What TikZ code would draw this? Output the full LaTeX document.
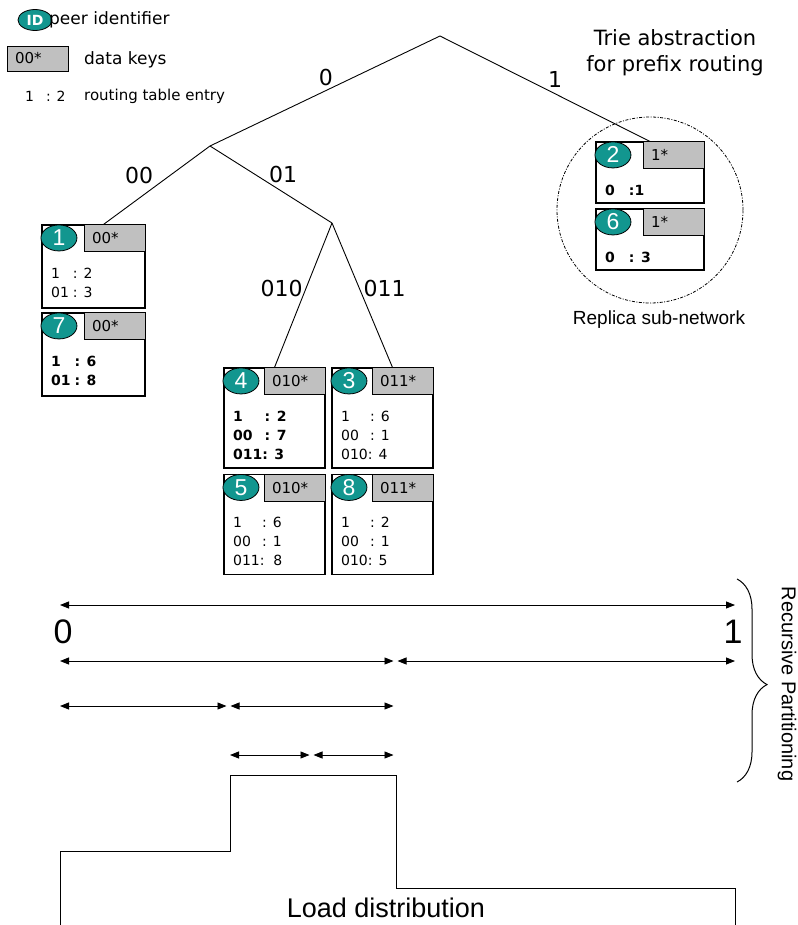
\documentclass[tikz,border=0pt]{standalone}
\usepackage{fontspec}
\setmainfont{Liberation Sans}
\newfontfamily\keyfont{DejaVu Sans}
\usetikzlibrary{positioning,shapes.geometric,arrows.meta,decorations.pathreplacing}
\definecolor{PeerTeal}{HTML}{12968F}
\definecolor{KeyGray}{HTML}{C0C0C0}

% one peer: frame, key range, id and routing table
\newcommand{\peerbox}[6][]{%
  \node[peer,#1] (#2) at (#3) {};
  \node[keybox] (#2k) at (#2.north east) {#5};
  \node[idmark] (#2i) at ([shift={(17.5pt,-13.5pt)}]#2.north west) {#4};
  \node[entries] (#2t) at ([shift={(9.5pt,-54pt)}]#2.north west) {#6};
}

\begin{document}
\begin{tikzpicture}[
    x=1pt, y=-1pt,
    peer/.style={draw,line width=1.1pt,minimum width=101pt,minimum height=100pt,inner sep=0pt},
    keybox/.style={draw,line width=0.9pt,fill=KeyGray,anchor=north east,minimum height=27pt,
      text width=45pt,inner xsep=8pt,inner ysep=0pt,align=left,font=\keyfont\fontsize{15}{16}\selectfont},
    idmark/.style={ellipse,draw,line width=0.8pt,fill=PeerTeal,minimum width=36pt,minimum height=26pt,
      inner sep=0pt,text=white,font=\fontsize{23}{23}\selectfont},
    entries/.style={anchor=base west,inner sep=0pt,font=\keyfont\fontsize{14}{19}\selectfont},
    trie/.style={line width=0.9pt},
    branch/.style={font=\keyfont\fontsize{22}{22}\selectfont,inner sep=0pt},
    legend/.style={anchor=west,inner sep=0pt,font=\keyfont\fontsize{17}{17}\selectfont},
    span/.style={<->,>={Triangle[length=9pt,width=7pt]},line width=0.9pt}
  ]
  \useasboundingbox (0,0) rectangle (797,925);

  % legend
  \node[idmark,minimum width=34pt,minimum height=21pt,font=\keyfont\bfseries\fontsize{14}{14}\selectfont] (legid) at (35,20) {ID};
  \node[legend] (legidtxt) at (49,20) {peer identifier};
  \node[keybox,anchor=center,minimum height=25pt,text width=45pt,inner xsep=8pt] (legkey) at (37.5,58.5) {00*};
  \node[legend] (legkeytxt) at (84,60) {data keys};
  \node[legend,font=\keyfont\fontsize{14}{14}\selectfont] (legrt) at (25,96) {1\hspace{12pt}: 2};
  \node[legend,font=\keyfont\fontsize{15}{15}\selectfont] (legrttxt) at (84,96) {routing table entry};

  \node[align=center,font=\keyfont\fontsize{21}{26}\selectfont] (title) at (675,53) {Trie abstraction\\for prefix routing};

  % peers
  \peerbox[minimum width=103pt,minimum height=83pt]{p1}{93.5,266.5}{1}{00*}{%
    \begin{tabular}[t]{@{}l@{\hspace{4pt}}l@{}}1 & : 2\\01 & : 3\end{tabular}}
  \peerbox[minimum width=103pt,minimum height=83pt]{p7}{93.5,354.5}{7}{00*}{\bfseries%
    \begin{tabular}[t]{@{}l@{\hspace{4pt}}l@{}}1 & : 6\\01 & : 8\end{tabular}}
  \peerbox{p4}{274.5,418}{4}{010*}{\bfseries%
    \begin{tabular}[t]{@{}l@{}l@{}}1 & \,: 2\\00 & \,: 7\\011 & : 3\end{tabular}}
  \peerbox{p3}{382.5,418}{3}{011*}{%
    \begin{tabular}[t]{@{}l@{}l@{}}1 & \,: 6\\00 & \,: 1\\010 & : 4\end{tabular}}
  \peerbox{p5}{274.5,524.5}{5}{010*}{%
    \begin{tabular}[t]{@{}l@{}l@{}}1 & \,: 6\\00 & \,: 1\\011 & :\ \ 8\end{tabular}}
  \peerbox{p8}{382.5,524.5}{8}{011*}{%
    \begin{tabular}[t]{@{}l@{}l@{}}1 & \,: 2\\00 & \,: 1\\010 & : 5\end{tabular}}
  \peerbox[minimum width=108pt,minimum height=61pt]{p2}{650,172.5}{2}{1*}{\bfseries%
    \begin{tabular}[t]{@{}l@{\hspace{14pt}}l@{}}0 & :1\end{tabular}}
  \peerbox[minimum width=108pt,minimum height=61pt]{p6}{650,239.5}{6}{1*}{\bfseries%
    \begin{tabular}[t]{@{}l@{\hspace{14pt}}l@{}}0 & : 3\end{tabular}}

  \node[circle,draw,line width=0.8pt,dash pattern=on 3pt off 1.5pt on 1pt off 1.5pt,minimum size=186pt] (replica) at (650,210) {};
  \node[font=\fontsize{19}{19}\selectfont] (replicatxt) at (659,320) {Replica sub-network};

  % trie
  \coordinate (root) at (440,36);
  \coordinate (n0) at (210,146);
  \coordinate (n01) at (332,223);
  \draw[trie] (root) -- node[branch,pos=0.496,above=4.5pt] {0} (n0);
  \draw[trie] (root) -- node[branch,pos=0.548,above=6pt] {1} (p2.north);
  \draw[trie] (n0) -- node[branch,pos=0.53,anchor=south east,yshift=3pt] {00} ([xshift=10pt]p1.north);
  \draw[trie] (n0) -- node[branch,pos=0.48,anchor=south west] {01} (n01);
  \draw[trie] (n01) -- node[branch,pos=0.45,anchor=east,xshift=-3pt] {010} (p4.north);
  \draw[trie] (n01) -- node[branch,pos=0.45,anchor=west,xshift=4pt] {011} ([xshift=10pt]p3.north);

  % recursive partitioning
  \coordinate (s1a) at (60,605);    \coordinate (s1b) at (735,605);
  \coordinate (s2a) at (60,661);    \coordinate (s2m) at (395.5,661); \coordinate (s2b) at (735,661);
  \coordinate (s3a) at (60,706);    \coordinate (s3m) at (228.5,706); \coordinate (s3b) at (393.5,706);
  \coordinate (s4a) at (230,755);   \coordinate (s4m) at (311.5,755); \coordinate (s4b) at (393.5,755);
  \draw[span] (s1a) -- (s1b);
  \foreach \a/\m/\b in {s2a/s2m/s2b,s3a/s3m/s3b,s4a/s4m/s4b} {
    \draw[span,shorten >=2pt] (\a) -- (\m);
    \draw[span,shorten <=2pt] (\m) -- (\b);
  }
  \node[font=\fontsize{34}{34}\selectfont] (zero) at (63,632) {0};
  \node[font=\fontsize{34}{34}\selectfont] (one) at (733,632) {1};

  \draw[line width=1pt,decorate,decoration={brace,amplitude=30pt,aspect=0.52}] (737,579) -- (737,782);
  \node[rotate=-90,font=\fontsize{20}{20}\selectfont] (recpart) at (787,684) {Recursive Partitioning};

  % load distribution
  \draw[line width=0.8pt] (60,925) -- (60,851) -- (230,851) -- (230,775) -- (396,775)
    -- (396,888) -- (735,888) -- (735,925);
  \node[font=\fontsize{27}{27}\selectfont] (load) at (386,908) {Load distribution};
\end{tikzpicture}
\end{document}
